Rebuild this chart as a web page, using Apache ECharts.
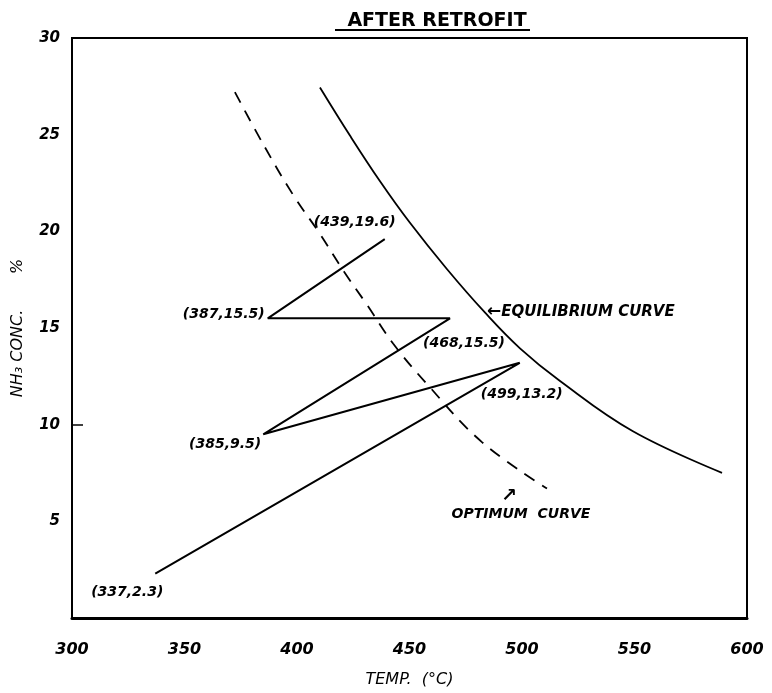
<!DOCTYPE html>
<html>
<head>
<meta charset="utf-8">
<script src="https://cdn.jsdelivr.net/npm/echarts@6/dist/echarts.min.js"></script>
<style>
html,body{margin:0;padding:0;background:#fff;}
#chart{width:772px;height:693px;}
</style>
</head>
<body>
<div id="chart"></div>
<script>
// ---- data ----
const titleText = 'AFTER RETROFIT';
const xName = 'TEMP.  (°C)';
const yName = 'NH₃ CONC.       %';
const xTicks = [300, 350, 400, 450, 500, 550, 600];
const yTicks = [0, 5, 10, 15, 20, 25, 30];

// operating path (temperature °C, NH3 %)
const pathX = [337, 499, 385, 468, 387, 439];
const pathY = [2.3, 13.2, 9.5, 15.5, 15.5, 19.6];
const pathLabels = ['(337,2.3)', '(499,13.2)', '(385,9.5)', '(468,15.5)', '(387,15.5)', '(439,19.6)'];

// equilibrium curve (solid)
const eqX = [410.2, 423.6, 436.9, 450.2, 466.7, 483.6, 499.1, 516.9, 549.3, 588.9];
const eqY = [27.44, 24.94, 22.59, 20.44, 18.04, 15.79, 13.95, 12.26, 9.66, 7.51];
const eqLabel = 'EQUILIBRIUM CURVE';

// optimum curve (dashed)
const optX = [372.4, 385.0, 398.2, 410.0, 421.0, 431.1, 442.7, 457.8, 482.2, 511.1];
const optY = [27.2, 24.5, 21.9, 19.9, 17.9, 16.2, 14.2, 12.1, 9.1, 6.7];
const optLabel = 'OPTIMUM  CURVE';

// ---- styling ----
const FONT = '"DejaVu Sans", sans-serif';
const annStyle = {fontFamily: FONT, fontWeight: 'bold', fontStyle: 'italic', fontSize: 14, color: '#000'};

// per-point label placement for the path annotations (style, not data)
const pathLabelPlacement = [
  {position: 'bottom', distance: 12, offset: [-28, 0]},
  {position: 'bottom', distance: 25, offset: [2, 0]},
  {position: 'left', distance: 2, offset: [0, 10]},
  {position: 'bottom', distance: 18, offset: [14, 0]},
  {position: 'left', distance: 3, offset: [0, -4]},
  {position: 'top', distance: 10, offset: [-30, 0]}
];

const pathData = pathX.map((x, i) => ({
  value: [x, pathY[i]],
  label: Object.assign({show: true, formatter: pathLabels[i]}, annStyle, pathLabelPlacement[i])
}));

const eqLabelIndex = 5;
const eqData = eqX.map((x, i) => {
  const d = {value: [x, eqY[i]]};
  if (i === eqLabelIndex) {
    d.label = Object.assign({}, annStyle, {
      show: true, position: 'right', distance: 2, offset: [0, -1], fontSize: 15,
      formatter: '{a|←}{b|' + eqLabel + '}',
      rich: {
        a: {fontFamily: FONT, fontWeight: 'bold', fontSize: 17, color: '#000'},
        b: {fontFamily: FONT, fontWeight: 'bold', fontStyle: 'italic', fontSize: 15, color: '#000'}
      }
    });
  }
  return d;
});

const optLabelIndex = optX.length - 1;
const optData = optX.map((x, i) => {
  const d = {value: [x, optY[i]]};
  if (i === optLabelIndex) {
    d.label = {
      show: true, position: 'bottom', distance: -2, offset: [-26, 0], color: '#000',
      formatter: '{a|↗}\n{b|' + optLabel + '}', align: 'center',
      rich: {
        a: {fontFamily: FONT, fontWeight: 'bold', fontSize: 19, color: '#000', lineHeight: 19, padding: [0, 24, 0, 0]},
        b: {fontFamily: FONT, fontWeight: 'bold', fontStyle: 'italic', fontSize: 14, color: '#000', lineHeight: 18}
      }
    };
  }
  return d;
});

const chart = echarts.init(document.getElementById('chart'), null, {renderer: 'canvas'});
chart.setOption({
  backgroundColor: '#fff',
  animation: false,
  title: {
    text: titleText,
    left: 432, top: 7, textAlign: 'center',
    textStyle: {fontFamily: FONT, fontWeight: 'bold', fontSize: 19, color: '#000'}
  },
  graphic: [{
    type: 'rect', left: 335, top: 29, shape: {width: 195, height: 2}, style: {fill: '#000'}
  }],
  grid: {left: 72, right: 25, top: 38, bottom: 68, show: true, borderColor: '#000', borderWidth: 2},
  xAxis: {
    type: 'value', min: xTicks[0], max: xTicks[xTicks.length - 1], interval: 50,
    name: xName, nameLocation: 'middle', nameGap: 54,
    nameTextStyle: {fontFamily: FONT, fontStyle: 'italic', fontSize: 16, color: '#000'},
    axisLine: {show: true, onZero: false, lineStyle: {color: '#000', width: 3}},
    axisTick: {show: false},
    splitLine: {show: false},
    axisLabel: {margin: 24, fontFamily: FONT, fontWeight: 'bold', fontStyle: 'italic', fontSize: 16, color: '#000'}
  },
  yAxis: {
    type: 'value', min: yTicks[0], max: yTicks[yTicks.length - 1], interval: 5,
    name: yName, nameLocation: 'middle', nameGap: 46, nameRotate: 90,
    nameTextStyle: {fontFamily: FONT, fontStyle: 'italic', fontSize: 16, color: '#000'},
    axisLine: {show: true, onZero: false, lineStyle: {color: '#000', width: 2}},
    axisTick: {show: true, inside: true, length: 11, customValues: [10], lineStyle: {color: '#000', width: 1.5}},
    splitLine: {show: false},
    axisLabel: {
      margin: 12, fontFamily: FONT, fontWeight: 'bold', fontStyle: 'italic', fontSize: 15, color: '#000',
      formatter: v => (v === 0 ? '' : String(v))
    }
  },
  series: [
    {
      name: 'Equilibrium', type: 'line', data: eqData, smooth: 0.4,
      symbol: 'circle', symbolSize: 0, showSymbol: true,
      lineStyle: {color: '#000', width: 1.8}, itemStyle: {color: '#000'}, z: 3
    },
    {
      name: 'Optimum', type: 'line', data: optData, smooth: 0.4,
      symbol: 'circle', symbolSize: 0, showSymbol: true,
      lineStyle: {color: '#000', width: 1.8, type: [12, 9]}, itemStyle: {color: '#000'}, z: 3
    },
    {
      name: 'Path', type: 'line', data: pathData, smooth: false,
      symbol: 'circle', symbolSize: 0, showSymbol: true,
      lineStyle: {color: '#000', width: 2}, itemStyle: {color: '#000'}, z: 4
    }
  ]
});
</script>
</body>
</html>
